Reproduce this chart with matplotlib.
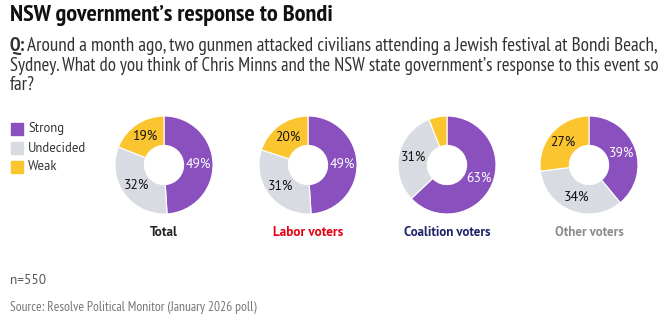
import matplotlib
matplotlib.use("Agg")
import numpy as np
import matplotlib.pyplot as plt
from matplotlib import font_manager
from matplotlib.patches import Rectangle

installed = {f.name for f in font_manager.fontManager.ttflist}


def pick(cands):
    return next((f for f in cands if f in installed), "DejaVu Sans")


narrow = pick(["PT Sans Narrow", "Archivo Narrow", "Asap Condensed", "Liberation Sans Narrow"])
wide = pick(["PT Sans", "Noto Sans", "DejaVu Sans"])
plt.rcParams['font.family'] = [narrow, 'DejaVu Sans']

groups = ["Total", "Labor voters", "Coalition voters", "Other voters"]
categories = ["Strong", "Undecided", "Weak"]
strong = [49, 49, 63, 39]
undecided = [32, 31, 31, 34]
weak = [19, 20, 6, 27]

colors = ["#8A50BE", "#D8DBE2", "#FBC530"]
group_colors = ["#222222", "#E60012", "#1B2466", "#8C8C8C"]

W, H = 666, 326
fig = plt.figure(figsize=(W / 100, H / 100), dpi=100)
fig.patch.set_facecolor("white")


def px(x, y):
    return x / W, 1 - y / H


fitted = []  # (text, width in px the reference gives it)

t = fig.text(*px(10, 16), "NSW government\u2019s response to Bondi", fontsize=15,
             fontweight="bold", color="#111111", va="center", ha="left")
fitted.append((t, 323))
q = fig.text(*px(10, 46), "Q:", fontsize=11, fontweight="bold", color="#333333",
             va="center", ha="left")
line1 = fig.text(*px(27, 46), "Around a month ago, two gunmen attacked civilians attending a Jewish festival at Bondi Beach,",
                 fontsize=11, color="#333333", va="center", ha="left")
fitted.append((line1, 632))
t = fig.text(*px(10, 66), "Sydney. What do you think of Chris Minns and the NSW state government\u2019s response to this event so",
             fontsize=11, color="#333333", va="center", ha="left")
fitted.append((t, 647))
far = fig.text(*px(10, 85), "far?", fontsize=11, color="#333333", va="center", ha="left")

# legend
legend_texts = []
for i, (cat, c) in enumerate(zip(categories, colors)):
    y = 129 + i * 19
    fig.patches.append(Rectangle(px(11, y + 6), 12 / W, 12 / H, color=c,
                                 transform=fig.transFigure, figure=fig))
    t = fig.text(*px(28, y), cat, fontsize=10.5, color="#333333", va="center", ha="left",
                 family=[wide, 'DejaVu Sans'])
    legend_texts.append(t)

centers = [164, 308, 447, 589]
title_w = [28, 70, 87, 69]
cy = 165
r = 49
pct_texts = []
for i, g in enumerate(groups):
    cx = centers[i]
    ax = fig.add_axes([(cx - r) / W, 1 - (cy + r) / H, 2 * r / W, 2 * r / H])
    vals = [strong[i], undecided[i], weak[i]]
    ax.pie(vals, colors=colors, startangle=90, counterclock=False, radius=1,
           wedgeprops=dict(width=0.6, edgecolor="white", linewidth=0.8))
    ax.set_xlim(-1, 1)
    ax.set_ylim(-1, 1)
    ax.axis("off")
    start = 90
    for j, v in enumerate(vals):
        mid = start - v * 3.6 / 2
        start -= v * 3.6
        if v < 10:
            continue
        rr = 0.7
        t = ax.text(rr * np.cos(np.radians(mid)), rr * np.sin(np.radians(mid)), f"{v}%",
                    ha="center", va="center", fontsize=11, family=[wide, 'DejaVu Sans'],
                    color="white" if j == 0 else "#111111")
        pct_texts.append(t)
    t = fig.text(*px(cx, 233), g, fontsize=11, fontweight="bold", color=group_colors[i],
                 ha="center", va="center", family=[wide, 'DejaVu Sans'])
    fitted.append((t, title_w[i]))

t = fig.text(*px(10, 281), "n=550", fontsize=10, color="#555555", va="center", ha="left",
             family=[wide, 'DejaVu Sans'])
fitted.append((t, 36))
t = fig.text(*px(10, 308), "Source: Resolve Political Monitor (January 2026 poll)", fontsize=9,
             color="#777777", va="center", ha="left")
fitted.append((t, 247))

# scale font sizes so each text spans what it spans in the reference
renderer = fig.canvas.get_renderer()
for txt, width in fitted:
    bb = txt.get_window_extent(renderer)
    if bb.width > 0:
        txt.set_fontsize(txt.get_fontsize() * width / bb.width)

q.set_fontsize(line1.get_fontsize())
far.set_fontsize(line1.get_fontsize())


def scale_group(texts, ref, width):
    bb = ref.get_window_extent(renderer)
    s = width / bb.width
    for tt in texts:
        tt.set_fontsize(tt.get_fontsize() * s)


scale_group(legend_texts, legend_texts[1], 59)
scale_group(pct_texts, pct_texts[0], 25)

fig.savefig("out.png", dpi=100, facecolor="white")
